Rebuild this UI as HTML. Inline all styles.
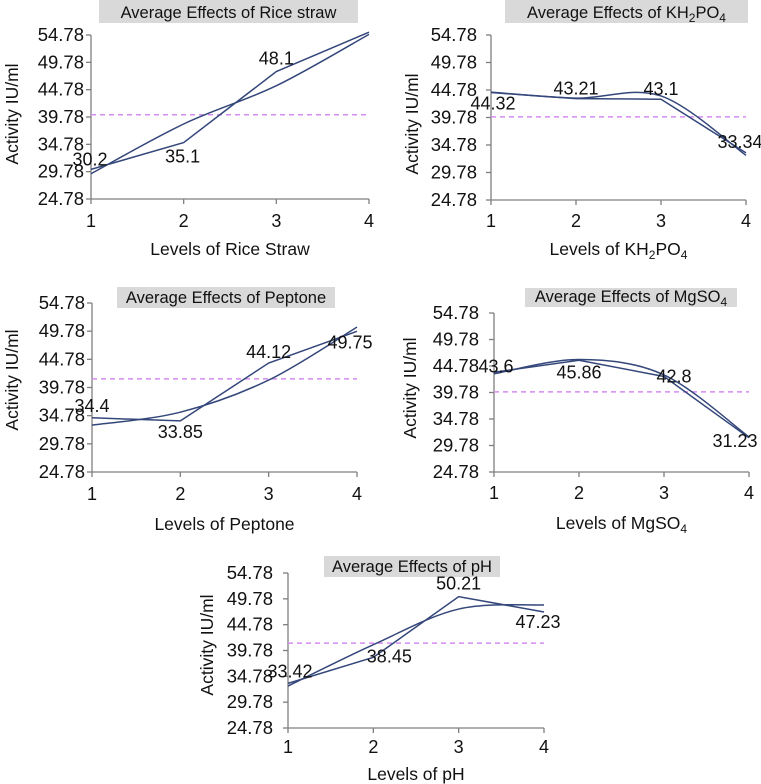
<!DOCTYPE html>
<html><head><meta charset="utf-8">
<style>
html,body{margin:0;padding:0;background:#fff;}
svg{display:block;font-family:"Liberation Sans",Arial,sans-serif;}
</style></head>
<body>
<svg id="chart" width="761" height="784" viewBox="0 0 761 784" xmlns="http://www.w3.org/2000/svg"></svg>
<script>
// ---- data ----
const levels = [1, 2, 3, 4];
const yTicks = [24.78, 29.78, 34.78, 39.78, 44.78, 49.78, 54.78];
const yTickLabels = ["24.78","29.78","34.78","39.78","44.78","49.78","54.78"];

const riceData = [30.2, 35.1, 48.1, 55.3];
const riceFit = [29.4, 38.5, 45.5, 54.9];
const riceLabels = ["30.2", "35.1", "48.1", ""];
const riceMean = 40.2;

const khData = [44.32, 43.21, 43.1, 33.34];
const khFit = [44.4, 43.3, 43.7, 32.9];
const khLabels = ["44.32", "43.21", "43.1", "33.34"];
const khMean = 39.9;

const pepData = [34.4, 33.85, 44.12, 49.75];
const pepFit = [33.1, 35.4, 41.1, 50.5];
const pepLabels = ["34.4", "33.85", "44.12", "49.75"];
const pepMean = 41.3;

const mgData = [43.6, 45.86, 42.8, 31.23];
const mgFit = [43.3, 46.0, 43.1, 31.4];
const mgLabels = ["43.6", "45.86", "42.8", "31.23"];
const mgMean = 39.9;

const phData = [33.42, 38.45, 50.21, 47.23];
const phFit = [32.9, 40.9, 47.8, 48.6];
const phLabels = ["33.42", "38.45", "50.21", "47.23"];
const phMean = 41.2;

// ---- layout (positions, not data) ----
const charts = [
 {name:"rice-straw", data:riceData, fit:riceFit, labels:riceLabels, mean:riceMean,
  x1:91, x4:369, yTop:35, yBot:199, lblRight:84, titleBox:[99,0,259,23], title:["Average Effects of Rice straw"],
  xTitle:["Levels of Rice Straw"], xLblY:227, xTitleY:255, yTitleX:12, yTitleY:114,
  off:[[-1,-4],[-1,20],[0,-7],[0,0]]},
 {name:"kh2po4", data:khData, fit:khFit, labels:khLabels, mean:khMean,
  x1:491, x4:746, yTop:35, yBot:200, lblRight:477, titleBox:[505,0,243,23], title:["Average Effects of KH","2","PO","4"],
  xTitle:["Levels of KH","2","PO","4"], xLblY:227, xTitleY:255, yTitleX:412, yTitleY:124,
  off:[[2,17],[0,-4],[0,-4],[-6,-5]]},
 {name:"peptone", data:pepData, fit:pepFit, labels:pepLabels, mean:pepMean,
  x1:92, x4:357, yTop:303, yBot:472, lblRight:85, titleBox:[117,287,218,21], title:["Average Effects of Peptone"],
  xTitle:["Levels of Peptone"], xLblY:500, xTitleY:530, yTitleX:12, yTitleY:380,
  off:[[0,-6],[0,17],[0,-5],[-7,17]]},
 {name:"mgso4", data:mgData, fit:mgFit, labels:mgLabels, mean:mgMean,
  x1:494, x4:749, yTop:313, yBot:472, lblRight:479, titleBox:[525,288,212,19], title:["Average Effects of MgSO","4"],
  xTitle:["Levels of MgSO","4"], xLblY:499, xTitleY:529, yTitleX:410, yTitleY:388,
  off:[[2,0],[0,18],[10,6],[-14,9]]},
 {name:"ph", data:phData, fit:phFit, labels:phLabels, mean:phMean,
  x1:288, x4:544, yTop:573, yBot:728, lblRight:273, titleBox:[324,556,176,21], title:["Average Effects of pH"],
  xTitle:["Levels of pH"], xLblY:753, xTitleY:780, yTitleX:207, yTitleY:645,
  off:[[2,-6],[16,5],[0,-7],[-6,16]]}
];

const NS = "http://www.w3.org/2000/svg";
const svg = document.getElementById("chart");
function mk(tag, attrs, parent){
  const e = document.createElementNS(NS, tag);
  for (const k in attrs) e.setAttribute(k, attrs[k]);
  (parent||svg).appendChild(e);
  return e;
}
function addSubText(t, parts){
  parts.forEach((p,i)=>{
    const ts = document.createElementNS(NS,"tspan");
    if (i%2===1){ ts.setAttribute("font-size","12"); ts.setAttribute("dy","4"); }
    else if (i>0){ ts.setAttribute("dy","-4"); }
    ts.textContent = p;
    t.appendChild(ts);
  });
}
function catmull(pts){
  let d = "M"+pts[0][0]+","+pts[0][1];
  for (let i=0;i<pts.length-1;i++){
    const p0=pts[Math.max(0,i-1)], p1=pts[i], p2=pts[i+1], p3=pts[Math.min(pts.length-1,i+2)];
    const c1=[p1[0]+(p2[0]-p0[0])/6, p1[1]+(p2[1]-p0[1])/6];
    const c2=[p2[0]-(p3[0]-p1[0])/6, p2[1]-(p3[1]-p1[1])/6];
    d += " C"+c1[0]+","+c1[1]+" "+c2[0]+","+c2[1]+" "+p2[0]+","+p2[1];
  }
  return d;
}

charts.forEach(c=>{
  const g = mk("g",{});
  
  
  const xs = v => c.x1 + (v-levels[0])/(levels[levels.length-1]-levels[0])*(c.x4-c.x1);
  const ys = v => c.yBot - (v-yTicks[0])/(yTicks[yTicks.length-1]-yTicks[0])*(c.yBot-c.yTop);

  const tb = mk("rect",{x:c.titleBox[0],y:c.titleBox[1],width:c.titleBox[2],height:c.titleBox[3],fill:"#d9d9d9"},g);
  
  
  const tt = mk("text",{x:c.titleBox[0]+c.titleBox[2]/2,y:c.titleBox[1]+c.titleBox[3]-5,"text-anchor":"middle","font-size":"16.5",fill:"#111"},g);
  
  
  addSubText(tt, c.title);

  const ax = mk("g",{stroke:"#7f7f7f","stroke-width":"1.3",fill:"none"},g);
  
  
  mk("line",{x1:c.x1,y1:c.yTop,x2:c.x1,y2:c.yBot},ax);
  mk("line",{x1:c.x1,y1:c.yBot,x2:c.x4,y2:c.yBot},ax);
  yTicks.forEach((v,i)=>{
    mk("line",{x1:c.x1-5,y1:ys(v),x2:c.x1,y2:ys(v)},ax);
    const t = mk("text",{x:c.lblRight,y:ys(v)+6,"text-anchor":"end","font-size":"18.5",fill:"#111"},g);
    
    
    t.textContent = yTickLabels[i];
  });
  levels.forEach(v=>{
    mk("line",{x1:xs(v),y1:c.yBot,x2:xs(v),y2:c.yBot+5},ax);
    const t = mk("text",{x:xs(v),y:c.xLblY,"text-anchor":"middle","font-size":"18",fill:"#111"},g);
    
    
    t.textContent = v;
  });
  const xt = mk("text",{x:(c.x1+c.x4)/2,y:c.xTitleY,"text-anchor":"middle","font-size":"17.5",fill:"#111"},g);
  
  
  addSubText(xt, c.xTitle);
  const yt = mk("text",{x:0,y:0,"text-anchor":"middle","font-size":"17.5",fill:"#111",transform:"translate("+(c.yTitleX+6)+","+c.yTitleY+") rotate(-90)"},g);
  
  
  yt.textContent = "Activity IU/ml";

  const ml = mk("line",{x1:c.x1,y1:ys(c.mean),x2:c.x4,y2:ys(c.mean),stroke:"#d58cf0","stroke-width":"1.5","stroke-dasharray":"5,4"},g);
  
  

  const fp = mk("path",{d:catmull(c.fit.map((v,i)=>[xs(levels[i]),ys(v)])),fill:"none",stroke:"#34477a","stroke-width":"1.5"},g);
  
  
  const dp = mk("polyline",{points:c.data.map((v,i)=>xs(levels[i])+","+ys(Math.min(v,55.3))).join(" "),fill:"none",stroke:"#34477a","stroke-width":"1.5"},g);
  
  

  c.labels.forEach((lab,i)=>{
    if(!lab) return;
    const t = mk("text",{x:xs(levels[i])+c.off[i][0],y:ys(c.data[i])+c.off[i][1],"text-anchor":"middle","font-size":"18",fill:"#111"},g);
    
    
    t.textContent = lab;
  });
});
</script>
</body></html>
